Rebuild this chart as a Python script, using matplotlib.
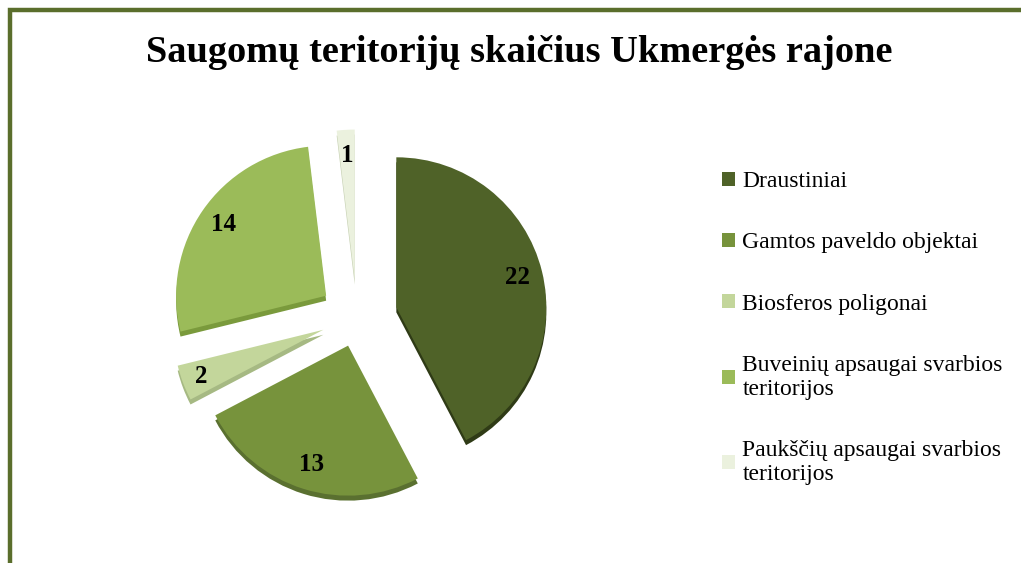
import matplotlib.pyplot as plt
from matplotlib.patches import Rectangle

# Duomenys
labels = ["Draustiniai", "Gamtos paveldo objektai", "Biosferos poligonai",
          "Buveinių apsaugai svarbios\nteritorijos", "Paukščių apsaugai svarbios\nteritorijos"]
values = [22, 13, 2, 14, 1]
explode = [0.27, 0.2, 0.24, 0.25, 0.25]
colors = ["#4f6228", "#77933c", "#c3d69b", "#9bbb59", "#ebf1de"]
side_colors = ["#2f3b16", "#5a7030", "#a6b983", "#7a9a3c", "#c8d2b5"]

W, H = 1021, 563
fig = plt.figure(figsize=(W / 100, H / 100), dpi=100)
ax = fig.add_axes([0, 0, 1, 1])

total = sum(values)
cx, cy, r = 357, H - 317, 150
depth = 5
# matplotlib explode yra absoliutiniais vienetais
expl = [e * r for e in explode]

# sonine dalis (3D efektas)
ax.pie(values, explode=expl, colors=side_colors, startangle=90, counterclock=False,
       center=(cx, cy - depth), radius=r, frame=True,
       wedgeprops=dict(linewidth=0))

wedges, _, autotexts = ax.pie(values, explode=expl, colors=colors, startangle=90,
                              counterclock=False, center=(cx, cy), radius=r, frame=True,
                              autopct=lambda p: f"{round(p * total / 100):d}",
                              pctdistance=0.83, wedgeprops=dict(linewidth=0))
for t in autotexts:
    t.set_fontfamily("Liberation Serif")
    t.set_fontweight("bold")
    t.set_fontsize(18)
    t.set_color("black")
autotexts[2].set_position((autotexts[2].get_position()[0] - 6, autotexts[2].get_position()[1] - 3))

ax.set_xlim(0, W)
ax.set_ylim(0, H)
ax.set_aspect("equal")
ax.axis("off")

fig.text(519 / W, 1 - 52 / H, "Saugomų teritorijų skaičius Ukmergės rajone",
         ha="center", va="center", fontfamily="Liberation Serif", fontweight="bold", fontsize=27.6)

leg = ax.legend(wedges, labels, loc="upper left", bbox_to_anchor=(701 / W, 1 - 150 / H),
                frameon=False, prop={"family": "Liberation Serif", "size": 17},
                handlelength=0.55, handleheight=0.55, handletextpad=0.3, labelspacing=1.7)
for t in leg.get_texts():
    t.set_linespacing(1.2)

# remelis
fig.patches.append(Rectangle((10 / W, -0.2), 1.2, 1.2 - 9.5 / H,
                             transform=fig.transFigure, fill=False,
                             edgecolor="#5a6e2c", linewidth=3.2, clip_on=False))

plt.savefig("out.png", dpi=100)
